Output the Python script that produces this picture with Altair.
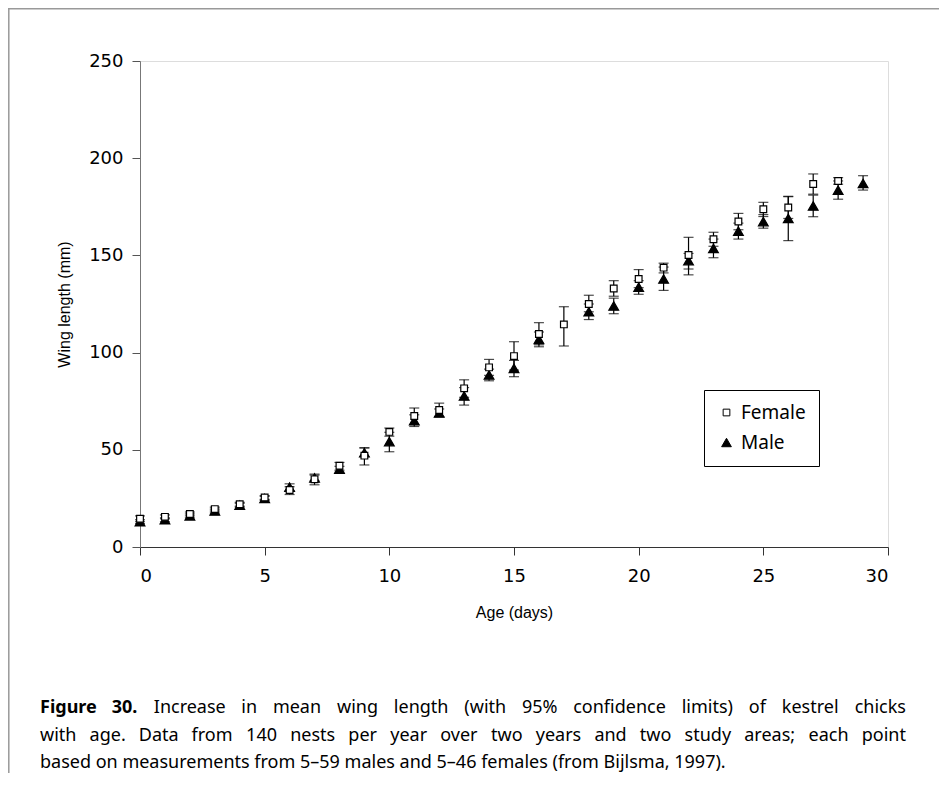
import altair as alt
import pandas as pd

ages = list(range(30))

female_mean = [14.5, 15.5, 17, 19.5, 22, 25.5, 29.3, 34.8, 41.8, 47, 59.2, 67.4, 70.5, 81.6, 92.4, 98.2, 109.6, 114.5,
               125, 133, 137.9, 143.7, 150.2, 158.3, 167.4, 173.7, 174.6, 186.7, 188.3, None]
female_lo = [13, 14.5, 16, 18.5, 21, 24.5, 27, 32, 39.5, 42.2, 57, 63, 67, 77, 88.3, 91, 104, 103.4,
             121, 129, 133.4, 141, 140, 154.7, 163.2, 170, 169, 181.5, 186.6, None]
female_hi = [16, 16.5, 18, 20.5, 23, 26.5, 31, 37.5, 43.5, 51, 61.2, 71.5, 74, 86, 96.5, 105.6, 115.4, 123.6,
             129.5, 137, 142.7, 146, 159.3, 161.9, 171.6, 177.3, 180.2, 191.9, 190, None]

male_mean = [13, 14, 16, 18.5, 21.5, 25, 30.8, 35.5, 40, 48.5, 54.2, 65, 69, 77.7, 88.5, 91.9, 106.8, None,
             121, 124, 133.6, 137.9, 147.3, 153.6, 162.5, 167.4, 169, 175.4, 183.6, 187]
male_lo = [12, 13, 15, 17.5, 20.5, 24, 29, 34, 38.5, 46.5, 49, 62, 67, 73, 85.5, 87.6, 103, None,
           117, 120, 130, 132, 143, 148.8, 158.4, 164, 157.6, 169.9, 178.9, 183.6]
male_hi = [14, 15, 17, 19.5, 22.5, 26, 32.5, 37, 41.5, 51, 59, 68, 71, 82, 91.5, 96, 110.6, None,
           125, 128, 137, 144, 151, 158.4, 166.6, 171, 180.4, 181, 188.3, 191]

x_ticks = [0, 5, 10, 15, 20, 25, 30]
y_ticks = [0, 50, 100, 150, 200, 250]

caption_bold = ["Figure", "30."]
caption_lines = [
    "Increase in mean wing length (with 95% confidence limits) of kestrel chicks",
    "with age. Data from 140 nests per year over two years and two study areas; each point",
    "based on measurements from 5\u201359 males and 5\u201346 females (from Bijlsma, 1997).",
]

rows = []
for name, m, lo, hi in [("Male", male_mean, male_lo, male_hi), ("Female", female_mean, female_lo, female_hi)]:
    for a, mv, l, h in zip(ages, m, lo, hi):
        if mv is not None:
            rows.append({"age": a, "sex": name, "wing": mv, "lo": l, "hi": h})
df = pd.DataFrame(rows)

W, H = 748, 486
PL, PT = 132, 53
PR = 931 - PL - W
PB = 765 - PT - H

xs = alt.Scale(domain=[0, 30], nice=False, zero=False)
ys = alt.Scale(domain=[0, 250], nice=False)

x_enc = alt.X("age:Q", scale=xs,
              axis=alt.Axis(values=x_ticks, title="Age (days)", grid=False, tickSize=8,
                            domainColor="#333", tickColor="#333", labelFont="DejaVu Sans",
                            labelFontSize=18, labelColor="black", labelPadding=12,
                            titleFont="Liberation Sans", titleFontSize=16, titleFontWeight="normal",
                            titleColor="black", titlePadding=19))
y_enc = alt.Y("wing:Q", scale=ys,
              axis=alt.Axis(values=y_ticks, title="Wing length (mm)", grid=False, tickSize=8,
                            domainColor="#777", tickColor="#555", labelFont="DejaVu Sans",
                            labelFontSize=18, labelColor="black", labelPadding=9,
                            titleFont="Liberation Sans", titleFontSize=16, titleFontWeight="normal",
                            titleColor="black", titlePadding=16))

base = alt.Chart(df)

bars = base.mark_rule(color="black", strokeWidth=1.2).encode(
    x=alt.X("age:Q", scale=xs), y=alt.Y("lo:Q", scale=ys), y2="hi:Q")
cap_lo = base.mark_tick(color="black", orient="horizontal", size=10, thickness=1.2).encode(
    x=alt.X("age:Q", scale=xs), y=alt.Y("lo:Q", scale=ys))
cap_hi = base.mark_tick(color="black", orient="horizontal", size=10, thickness=1.2).encode(
    x=alt.X("age:Q", scale=xs), y=alt.Y("hi:Q", scale=ys))

LX, LY = 564, 329
leg = alt.Legend(title=None, orient="none", legendX=LX, legendY=LY,
                 strokeColor="black", padding=13, labelFont="Noto Sans",
                 labelFontSize=19, labelColor="black", rowPadding=10,
                 symbolStrokeColor="black", symbolStrokeWidth=1,
                 fillColor="white", labelOffset=5)
dom = ["Female", "Male"]
points = base.mark_point(filled=False, stroke="black", strokeWidth=1.2, opacity=1).encode(
    x=x_enc, y=y_enc,
    shape=alt.Shape("sex:N", scale=alt.Scale(domain=dom, range=["square", "triangle-up"]), legend=leg),
    fill=alt.Fill("sex:N", scale=alt.Scale(domain=dom, range=["white", "black"]),
                  legend=alt.Legend(title=None, orient="none", legendX=LX, legendY=LY)),
    size=alt.Size("sex:N", scale=alt.Scale(domain=dom, range=[45, 95]),
                  legend=alt.Legend(title=None, orient="none", legendX=LX, legendY=LY)),
    order=alt.Order("sex:N", sort="descending"),
)

one = alt.Data(values=[{}])
frame_top = alt.Chart(one).mark_rule(color="#999", strokeWidth=1.5).encode(
    x=alt.value(-PL), x2=alt.value(W + PR), y=alt.value(-PT + 0.8))
frame_left = alt.Chart(one).mark_rule(color="#999", strokeWidth=1.5).encode(
    x=alt.value(-PL + 0.8), y=alt.value(-PT), y2=alt.value(H + PB))

# ---- caption layout (justified like the printed figure) ----
EM = {" ": 0.26, "(": 0.296, ")": 0.296, ",": 0.25, ".": 0.266, ";": 0.266, "%": 0.822, "\u2013": 0.5,
      "a": 0.561, "b": 0.615, "c": 0.48, "d": 0.615, "e": 0.564, "f": 0.344, "g": 0.615, "h": 0.618,
      "i": 0.258, "j": 0.258, "k": 0.534, "l": 0.258, "m": 0.937, "n": 0.618, "o": 0.605, "p": 0.615,
      "q": 0.615, "r": 0.413, "s": 0.479, "t": 0.361, "u": 0.618, "v": 0.508, "w": 0.786, "x": 0.529,
      "y": 0.51, "z": 0.47, "I": 0.299, "D": 0.712, "B": 0.648, "F": 0.532}


def em(s):
    return sum(EM.get(c, 0.572) for c in s)


cap_font = "Noto Sans"
f = 18
k_reg = (648.0 / 17.0) / em(caption_lines[2])
k_bold = (82.0 / 17.0) / em("Figure 30.")

line_y = [708 - 61, 736 - 61, 763 - 61]
L, R = 40 - 140, 906 - 140

words = []  # (text, bold, line)
for w in caption_bold:
    words.append((w, True, 0))
for w in caption_lines[0].split(" "):
    words.append((w, False, 0))
for w in caption_lines[1].split(" "):
    words.append((w, False, 1))

cap_layers = []
for li in (0, 1):
    lw = [(t, b) for (t, b, l) in words if l == li]
    widths = [em(t) * f * (k_bold if b else k_reg) for t, b in lw]
    gap = (R - L - sum(widths)) / (len(lw) - 1)
    xcur = L
    for i, ((t, b), wd) in enumerate(zip(lw, widths)):
        last = i == len(lw) - 1
        cap_layers.append(alt.Chart(one).mark_text(
            font=cap_font, fontSize=f, fontWeight="bold" if b else "normal",
            align="right" if last else "left", baseline="middle", color="black").encode(
            x=alt.value(R if last else xcur), y=alt.value(line_y[li]), text=alt.value(t)))
        xcur += wd + gap

cap_layers.append(alt.Chart(one).mark_text(font=cap_font, fontSize=f, align="left",
                                           baseline="middle", color="black").encode(
    x=alt.value(L), y=alt.value(line_y[2]), text=alt.value(caption_lines[2])))

chart = alt.layer(bars, cap_lo, cap_hi, points, frame_top, frame_left, *cap_layers).properties(
    width=W, height=H,
    autosize=alt.AutoSizeParams(type="none"),
    padding={"left": PL, "top": PT, "right": PR, "bottom": PB},
).configure_view(stroke=None).configure(background="white")

chart.save("out.html", embed_options={"renderer": "svg", "actions": False})
